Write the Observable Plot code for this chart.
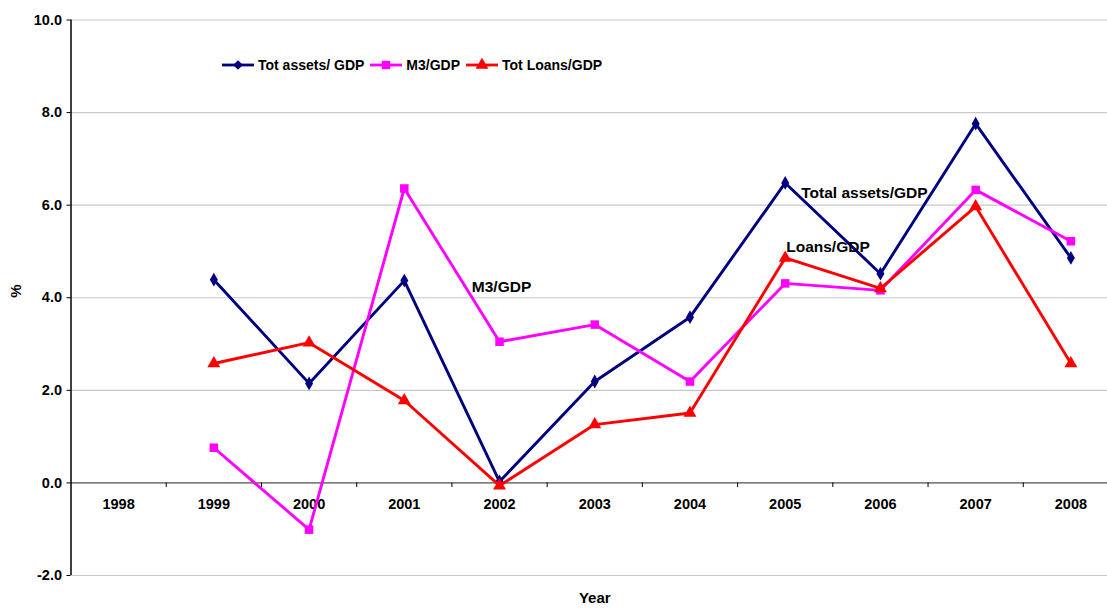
<!DOCTYPE html>
<html>
<head>
<meta charset="utf-8">
<script src="https://cdn.jsdelivr.net/npm/d3@7"></script>
<script src="https://cdn.jsdelivr.net/npm/@observablehq/plot@0.6"></script>
<style>
  html, body { margin: 0; padding: 0; background: #fff; overflow: hidden; }
  #wrap { position: relative; width: 1107px; height: 608px; overflow: hidden; font-family: "Liberation Sans", Arial, sans-serif; }
  #chart svg { max-width: none !important; }
  #legend { position: absolute; left: 222px; top: 57px; display: flex; align-items: center; font-weight: bold; font-size: 14px; color: #000; }
  #legend .item { display: flex; align-items: center; margin-right: 6px; }
  #legend svg { margin-right: 4px; }
</style>
</head>
<body>
<div id="wrap">
  <div id="chart"></div>
  <div id="legend"></div>
</div>
<script>
const years = [1998, 1999, 2000, 2001, 2002, 2003, 2004, 2005, 2006, 2007, 2008];
const dataYears = [1999, 2000, 2001, 2002, 2003, 2004, 2005, 2006, 2007, 2008];
const totAssets = [4.39, 2.15, 4.37, 0.03, 2.19, 3.58, 6.48, 4.52, 7.76, 4.86];
const m3 = [0.76, -1.01, 6.36, 3.05, 3.42, 2.19, 4.31, 4.16, 6.33, 5.22];
const loans = [2.58, 3.03, 1.78, -0.06, 1.26, 1.51, 4.86, 4.20, 5.97, 2.58];
const yTicks = [-2, 0, 2, 4, 6, 8, 10];
const seriesNames = ["Tot assets/ GDP", "M3/GDP", "Tot Loans/GDP"];
const seriesColors = ["#000080", "#ff00ff", "#ff0000"];
const seriesSymbols = ["diamond", "square", "triangle"];
const annotations = [
  {text: "Total assets/GDP", x: 2005, y: 6.27, dx: 16, anchor: "start"},
  {text: "Loans/GDP", x: 2005, y: 5.09, dx: 1, anchor: "start"},
  {text: "M3/GDP", x: 2002, y: 4.23, dx: 2, anchor: "middle"}
];

const series = [totAssets, m3, loans];
const rows = [];
series.forEach((vals, si) => vals.forEach((v, i) => rows.push({year: dataYears[i], value: v, s: si})));

const boundaries = years.slice(1).map(y => y - 0.5);
const font = "Liberation Sans, Arial, sans-serif";

const marks = [
  Plot.ruleY(yTicks.filter(d => d !== 0), {y: d => d, stroke: "#c8c8c8", strokeWidth: 1.2}),
  Plot.ruleY([0], {stroke: "#808080", strokeWidth: 1.6}),
  Plot.ruleX(boundaries, {x: d => d, y1: 0, y2: -0.1, stroke: "#000", strokeWidth: 1}),
  Plot.ruleX([1997.5], {y1: -2, y2: 10, stroke: "#000", strokeWidth: 1.5}),
  Plot.axisY({ticks: yTicks, tickFormat: d => d.toFixed(1), tickSize: 4, tickPadding: 5, fontWeight: "bold", fontSize: 14.5, label: null, stroke: "#000"}),
  Plot.text(years, {x: d => d, y: 0, dy: 21, text: d => String(d), fontWeight: "bold", fontSize: 14.5, fill: "#000"})
];
series.forEach((vals, si) => {
  const d = rows.filter(r => r.s === si);
  marks.push(Plot.line(d, {x: "year", y: "value", stroke: seriesColors[si], strokeWidth: 2.9}));
  marks.push(Plot.dot(d, {x: "year", y: "value", fill: seriesColors[si], stroke: "none", symbol: seriesSymbols[si], r: si === 0 ? 4.2 : 4.8}));
});
annotations.forEach(a => {
  marks.push(Plot.text([a], {x: "x", y: "y", text: "text", dx: a.dx, textAnchor: a.anchor, fontWeight: "bold", fontSize: 15.5, fill: "#000"}));
});
marks.push(Plot.text(["Year"], {frameAnchor: "bottom", dy: 27, fontWeight: "bold", fontSize: 15, fill: "#000"}));
marks.push(Plot.text(["%"], {frameAnchor: "left", dx: -55, rotate: -90, fontWeight: "bold", fontSize: 15, fill: "#000"}));

const chart = Plot.plot({
  width: 1120,
  height: 608,
  marginLeft: 70.5,
  marginRight: 2,
  marginTop: 19.5,
  marginBottom: 33,
  style: {fontFamily: font, background: "#fff", overflow: "visible", maxWidth: "none"},
  x: {domain: [1997.5, 2008.5], axis: null},
  y: {domain: [-2, 10], axis: null},
  marks
});
document.getElementById("chart").appendChild(chart);

const legend = document.getElementById("legend");
const symbolPaths = {
  diamond: d3.symbol(d3.symbolDiamond2, 60)(),
  square: d3.symbol(d3.symbolSquare, 70)(),
  triangle: d3.symbol(d3.symbolTriangle, 70)()
};
seriesNames.forEach((name, i) => {
  const item = document.createElement("div");
  item.className = "item";
  item.innerHTML = `<svg width="32" height="14" viewBox="-16 -7 32 14"><line x1="-16" x2="16" y1="0" y2="0" stroke="${seriesColors[i]}" stroke-width="2.8"/><path d="${symbolPaths[seriesSymbols[i]]}" fill="${seriesColors[i]}"/></svg><span>${name}</span>`;
  legend.appendChild(item);
});
</script>
</body>
</html>
